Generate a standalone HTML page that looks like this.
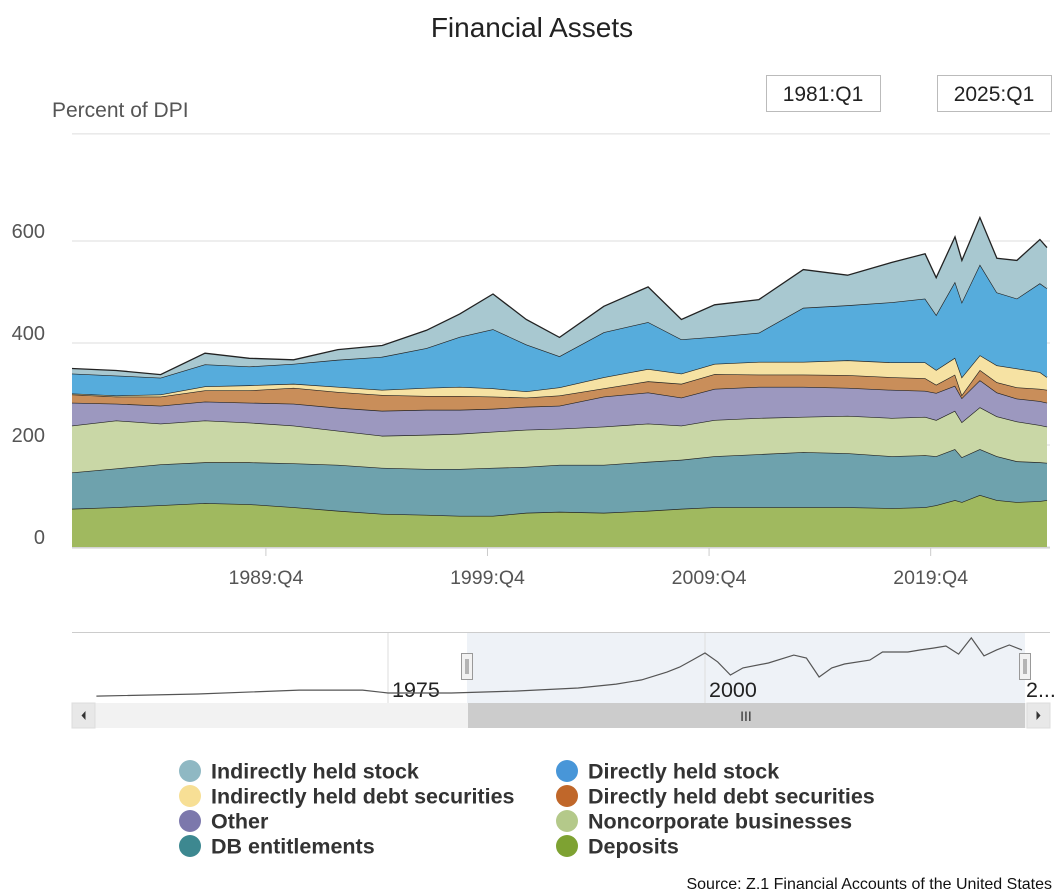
<!DOCTYPE html>
<html><head><meta charset="utf-8">
<style>
html,body{margin:0;padding:0;background:#fff;}
body{width:1059px;height:891px;overflow:hidden;font-family:"Liberation Sans",sans-serif;position:relative;}
svg{position:absolute;left:0;top:0;}
</style></head>
<body>
<svg id="chart" width="1059" height="891" viewBox="0 0 1059 891">
  <text x="532" y="37" text-anchor="middle" font-size="28" fill="#222">Financial Assets</text>
  <g>
    <rect x="766.5" y="75.5" width="114" height="36" fill="#fff" stroke="#bbb"/>
    <text x="823" y="101" text-anchor="middle" font-size="21" fill="#222">1981:Q1</text>
  </g>
  <g>
    <rect x="937.5" y="75.5" width="114" height="36" fill="#fff" stroke="#bbb"/>
    <text x="994" y="101" text-anchor="middle" font-size="21" fill="#222">2025:Q1</text>
  </g>
  <text x="52" y="117" font-size="21" fill="#555">Percent of DPI</text>
  <g id="grid"></g>
  <g id="areas"></g>
  <g id="xaxis"></g>
  <g id="nav"></g>
  <g id="legend"></g>
  <text x="1052" y="889" text-anchor="end" font-size="16" fill="#111">Source: Z.1 Financial Accounts of the United States</text>
</svg>
<script>
const periods = [1981,1983,1985,1987,1989,1991,1993,1995,1997,1998.5,2000,2001.5,2003,2005,2007,2008.5,2010,2012,2014,2016,2018,2019.5,2020.0,2020.85,2021.16,2021.97,2022.74,2023.64,2024.68,2025.0];
const deposits = [75,78,82,86,84,78,71,65,63,61,61,67,69,67,71,75,78,78,78,78,76,78,82,92,88,102,92,88,90,92];
const dbEntitlements = [71,76,80,80,82,86,90,90,90,92,94,90,92,94,96,96,100,104,108,106,102,102,96,100,88,90,86,80,76,73];
const noncorporate = [92,94,80,82,78,74,67,63,67,69,71,73,71,75,75,67,71,71,69,73,75,75,71,75,69,82,78,78,73,71];
const other = [45,33,35,37,39,43,45,49,49,47,45,45,45,59,61,55,61,61,59,55,55,51,53,49,47,53,47,45,47,47];
const directDebt = [16,14,18,22,24,31,31,31,27,27,24,18,20,16,22,27,29,24,24,25,25,25,16,22,6,20,20,22,24,25];
const indirectDebt = [2,2,4,8,10,8,10,10,16,18,16,12,16,22,24,20,20,25,25,29,29,31,29,33,35,29,33,37,33,25];
const directStock = [39,39,33,43,37,39,53,65,78,98,116,92,61,88,92,67,53,57,106,108,118,125,108,149,147,178,143,137,174,174];
const indirectStock = [10,10,6,22,16,8,20,22,35,45,69,49,37,51,69,39,63,65,75,59,78,88,73,88,82,92,67,75,86,80];
const seriesNames = ["Deposits","DB entitlements","Noncorporate businesses","Other","Directly held debt securities","Indirectly held debt securities","Directly held stock","Indirectly held stock"];
const yTicks = [0,200,400,600];
const xTickLabels = ["1989:Q4","1999:Q4","2009:Q4","2019:Q4"];
const xTickTimes = [1989.75,1999.75,2009.75,2019.75];
const navYears = [1952,1960,1968,1973,1975,1980,1985,1990,1993,1995,1997,1998,1999,2000,2001,2002,2003,2005,2007,2008,2009,2010,2011,2013,2014,2016,2017,2018,2019,2020,2021,2022,2023,2024,2025];
const navValues = [323,335,358,358,341,341,352,370,393,417,463,492,533,574,522,446,487,516,562,545,434,487,510,533,580,580,592,603,615,568,662,557,592,621,592];
const navTickLabels = ["1975","2000","2..."];
const navTickYears = [1975,2000,2025];

const NS="http://www.w3.org/2000/svg";
function mk(tag,attrs,parent){const e=document.createElementNS(NS,tag);for(const k in attrs)e.setAttribute(k,attrs[k]);parent.appendChild(e);return e;}
const X0=72,X1=1047,Y0=547,PX_PER=0.51;
const xs=t=>X0+(t-1981)/(2025-1981)*(X1-X0);
const ys=v=>Y0-v*PX_PER;
const grid=document.getElementById('grid');
[...yTicks,810].forEach((v,i)=>{
  const l=mk('line',{x1:72,x2:1050,y1:ys(v),y2:ys(v),stroke:'#ddd','stroke-width':1},grid);
  
  
});
yTicks.forEach(v=>{
  const t=mk('text',{x:45,y:ys(v)-3,'text-anchor':'end','font-size':20,fill:'#555'},grid);
  t.textContent=v;
  
  
});
const fills=["#a0b95f","#6ea2ad","#c9d7a6","#9c98bf","#c98e5a","#f6e2a3","#56acdc","#a8c8d0"];
const series=[deposits,dbEntitlements,noncorporate,other,directDebt,indirectDebt,directStock,indirectStock];
const areas=document.getElementById('areas');
let base=periods.map(()=>0);
series.forEach((s,i)=>{
  const top=base.map((b,j)=>b+s[j]);
  let d='M'+periods.map((t,j)=>xs(t).toFixed(1)+','+ys(top[j]).toFixed(1)).join('L');
  for(let j=periods.length-1;j>=0;j--)d+='L'+xs(periods[j]).toFixed(1)+','+ys(base[j]).toFixed(1);
  d+='Z';
  const p=mk('path',{d:d,fill:fills[i],stroke:'none'},areas);
  
  
  const ln=mk('path',{d:'M'+periods.map((t,j)=>xs(t).toFixed(1)+','+ys(top[j]).toFixed(1)).join('L'),fill:'none',stroke:'#222','stroke-width':1.3},areas);
  
  
  base=top;
});
const xa=document.getElementById('xaxis');
mk('line',{x1:72,x2:1050,y1:548,y2:548,stroke:'#ccc'},xa);
xTickLabels.forEach((lab,i)=>{
  const x=xs(xTickTimes[i]);
  mk('line',{x1:x,x2:x,y1:548,y2:556,stroke:'#ccc'},xa);
  const t=mk('text',{x:x,y:584,'text-anchor':'middle','font-size':19.5,fill:'#555'},xa);
  t.textContent=lab;
  
  
});
// navigator
const nav=document.getElementById('nav');
const nx=y=>705+(y-2000)*12.68;
const ny=v=>700-(v-300)/350*60;
const sel=mk('rect',{x:467,y:632,width:558,height:71,fill:'#eef2f7'},nav);


mk('line',{x1:72,x2:1050,y1:632.5,y2:632.5,stroke:'#ccc'},nav);
navTickYears.forEach((y,i)=>{
  const x=nx(y);
  if(i<2) mk('line',{x1:x,x2:x,y1:633,y2:703,stroke:'#ddd'},nav);
  const t=mk('text',{x:x+4,y:697,'font-size':21.5,fill:'#222'},nav);
  t.textContent=navTickLabels[i];
  
  
});
const nl=mk('path',{d:'M'+navYears.map((y,j)=>nx(y).toFixed(1)+','+ny(navValues[j]).toFixed(1)).join('L'),fill:'none',stroke:'#555','stroke-width':1.2},nav);


[461,1019].forEach((hx,i)=>{
  const h=mk('g',{},nav);
  
  
  mk('rect',{x:hx+0.5,y:653.5,width:11,height:26,fill:'#f2f2f2',stroke:'#999'},h);
  mk('line',{x1:hx+5,x2:hx+5,y1:659,y2:674,stroke:'#777'},h);
  mk('line',{x1:hx+7,x2:hx+7,y1:659,y2:674,stroke:'#777'},h);
});
const sb=mk('rect',{x:72,y:703,width:978,height:25,fill:'#f2f2f2'},nav);


const th=mk('rect',{x:468,y:703,width:557,height:25,fill:'#cccccc'},nav);


const tt=mk('text',{x:746,y:721,'text-anchor':'middle','font-size':14,fill:'#333'},nav);tt.textContent='III';
[[72,'l'],[1027,'r']].forEach(([ax,dir])=>{
  const g=mk('g',{},nav);
  
  
  mk('rect',{x:ax,y:703,width:23,height:25,fill:'#e8e8e8',stroke:'#ddd'},g);
  const cx=ax+11.5;
  mk('path',{d:dir==='l'?`M${cx+2},711L${cx-2},715.5L${cx+2},720Z`:`M${cx-2},711L${cx+2},715.5L${cx-2},720Z`,fill:'#333'},g);
});
// legend
const leg=document.getElementById('legend');
const legColors={"Indirectly held stock":"#8fb8c3","Directly held stock":"#4896d8","Indirectly held debt securities":"#f7df95","Directly held debt securities":"#c0672a","Other":"#7c78ac","Noncorporate businesses":"#b4c98a","DB entitlements":"#3d8890","Deposits":"#7ea232"};
const legOrder=["Indirectly held stock","Directly held stock","Indirectly held debt securities","Directly held debt securities","Other","Noncorporate businesses","DB entitlements","Deposits"];
legOrder.forEach((n,i)=>{
  const col=i%2,row=Math.floor(i/2);
  const cx=col?567:190,cy=771+row*25;
  const g=mk('g',{},leg);
  
  
  mk('circle',{cx:cx,cy:cy,r:11,fill:legColors[n]},g);
  const t=mk('text',{x:cx+21,y:cy+7.5,'font-size':21.5,'font-weight':'bold',fill:'#333'},g);
  t.textContent=n;
});
</script>
</body></html>
